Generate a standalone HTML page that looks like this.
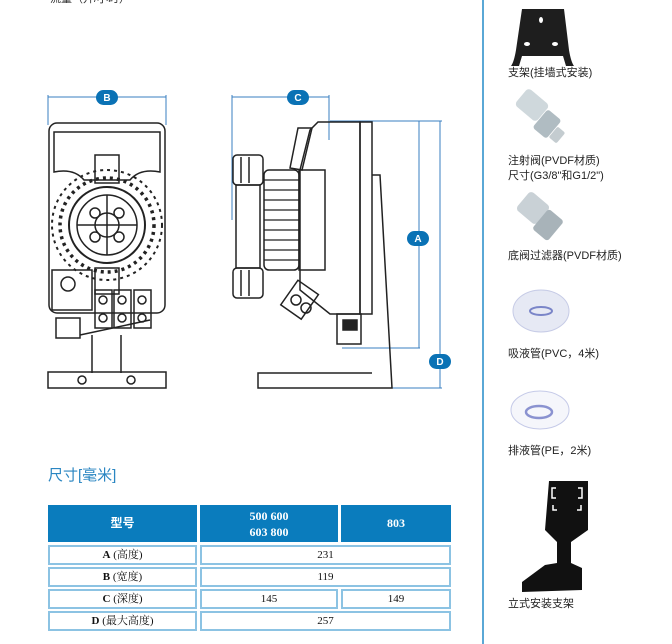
<!DOCTYPE html>
<html><head><meta charset="utf-8"><style>
html,body{margin:0;padding:0;background:#fff;}
body{width:672px;height:644px;position:relative;overflow:hidden;font-family:"Liberation Sans","Noto Sans CJK SC",sans-serif;}
.t{position:absolute;font-size:11px;color:#222;white-space:nowrap;line-height:14px;}
.c{position:absolute;box-sizing:border-box;border:2px solid #8cc3e3;text-align:center;font-family:"Liberation Serif","Noto Serif CJK SC",serif;font-size:11px;color:#111;}
.h{position:absolute;background:#0a7cbd;color:#fff;font-weight:bold;text-align:center;font-family:"Liberation Serif","Noto Sans CJK SC",serif;font-size:12px;}
</style></head><body>
<div class="t" style="left:50px;top:-8px;color:#333">流量（升/小时）</div>
<div style="position:absolute;left:482px;top:0;width:2px;height:644px;background:#5aa8d6"></div>

<svg width="672" height="644" style="position:absolute;left:0;top:0" xmlns="http://www.w3.org/2000/svg">
<g fill="none" stroke="#3a7fc0" stroke-width="1">
<line x1="48" y1="97" x2="166" y2="97"/><line x1="48" y1="95" x2="48" y2="125"/><line x1="166" y1="95" x2="166" y2="125"/>
<line x1="232" y1="97" x2="329" y2="97"/><line x1="232" y1="95" x2="232" y2="220"/><line x1="329" y1="95" x2="329" y2="140"/>
<line x1="330" y1="121" x2="442" y2="121"/>
<line x1="419" y1="121" x2="419" y2="348"/><line x1="342" y1="348" x2="420" y2="348"/>
<line x1="440" y1="121" x2="440" y2="388"/><line x1="375" y1="388" x2="442" y2="388"/>
</g>
<g fill="#0a72b5">
<rect x="96" y="90" width="22" height="15" rx="7.5"/><rect x="287" y="90" width="22" height="15" rx="7.5"/>
<rect x="407" y="231" width="22" height="15" rx="7.5"/><rect x="429" y="354" width="22" height="15" rx="7.5"/>
</g>
<g fill="#fff" font-family="Liberation Sans" font-weight="bold" font-size="10" text-anchor="middle">
<text x="107" y="101">B</text><text x="298" y="101">C</text><text x="418" y="242">A</text><text x="440" y="365">D</text>
</g>
<!-- front view -->
<g fill="none" stroke="#222" stroke-width="1.5">
<rect x="49" y="123" width="116" height="190" rx="8"/>
<path d="M54 132 L160 132 L160 172 Q140 168 130 180 L84 180 Q74 168 54 172 Z"/>
<circle cx="107" cy="225" r="38" stroke-width="2"/><circle cx="107" cy="225" r="30"/><circle cx="107" cy="225" r="12"/>
<line x1="77" y1="225" x2="137" y2="225"/><line x1="107" y1="195" x2="107" y2="255"/>
<circle cx="95" cy="213" r="5"/><circle cx="119" cy="213" r="5"/><circle cx="95" cy="237" r="5"/><circle cx="119" cy="237" r="5"/>
<rect x="95" y="155" width="24" height="28"/><rect x="95" y="268" width="24" height="26"/>
<rect x="95" y="290" width="17" height="38"/><rect x="114" y="290" width="17" height="38"/><rect x="134" y="290" width="17" height="38"/>
<circle cx="103" cy="300" r="4"/><circle cx="122" cy="300" r="4"/><circle cx="142" cy="300" r="4"/>
<circle cx="103" cy="318" r="4"/><circle cx="122" cy="318" r="4"/><circle cx="142" cy="318" r="4"/>
<rect x="56" y="318" width="24" height="20"/>
<path d="M92 335 L92 373 M121 335 L121 373 M80 335 L150 320"/>
<rect x="48" y="372" width="118" height="16"/>
<circle cx="82" cy="380" r="4"/><circle cx="131" cy="380" r="4"/>
<circle cx="68" cy="284" r="7"/>
<rect x="52" y="270" width="40" height="40"/>
</g>
<g stroke="#222" stroke-width="3.5" stroke-dasharray="3 4" fill="none"><circle cx="107" cy="225" r="47"/><circle cx="107" cy="225" r="55" stroke-width="2"/></g>
<!-- side view -->
<g fill="none" stroke="#222" stroke-width="1.5">
<rect x="360" y="122" width="12" height="192"/>
<path d="M318 122 L360 122 L360 314 L330 314 L300 290 L300 170 L310 130 Z"/>
<path d="M372 175 L380 175 L392 388 L258 388 L258 373 L372 373"/>
<path d="M298 128 L312 128 L302 170 L290 168 Z"/>
<rect x="264" y="170" width="35" height="100" rx="5"/>
<g stroke-width="1.2"><line x1="264" y1="180" x2="299" y2="180"/><line x1="264" y1="190" x2="299" y2="190"/><line x1="264" y1="200" x2="299" y2="200"/><line x1="264" y1="210" x2="299" y2="210"/><line x1="264" y1="220" x2="299" y2="220"/><line x1="264" y1="230" x2="299" y2="230"/><line x1="264" y1="240" x2="299" y2="240"/><line x1="264" y1="250" x2="299" y2="250"/><line x1="264" y1="260" x2="299" y2="260"/></g>
<rect x="299" y="170" width="26" height="100"/>
<rect x="233" y="155" width="30" height="30" rx="4"/><rect x="233" y="268" width="30" height="30" rx="4"/>
<line x1="241" y1="157" x2="241" y2="183"/><line x1="249" y1="157" x2="249" y2="183"/><line x1="241" y1="270" x2="241" y2="296"/><line x1="249" y1="270" x2="249" y2="296"/>
<rect x="236" y="185" width="24" height="83"/>
<rect x="337" y="314" width="24" height="30"/><rect x="343" y="320" width="14" height="10" fill="#222"/>
<rect x="287" y="285" width="25" height="30" transform="rotate(35 300 300)"/>
<circle cx="296" cy="300" r="5"/><circle cx="306" cy="308" r="5"/>
</g>
<!-- right panel images -->
<path d="M522 9 L564 9 L569 50 Q571 62 574 66 L566 66 L563 56 L522 56 L519 66 L511 66 Q514 62 516 50 Z" fill="#1e1e1e"/>
<ellipse cx="541" cy="20" rx="2" ry="3" fill="#fff"/><ellipse cx="527" cy="44" rx="3" ry="2" fill="#fff"/><ellipse cx="555" cy="44" rx="3" ry="2" fill="#fff"/><ellipse cx="541" cy="58" rx="2" ry="2" fill="#fff"/>
<rect x="518" y="94" width="28" height="22" rx="4" fill="#cfd8dc" transform="rotate(40 532 105)"/>
<rect x="538" y="112" width="18" height="24" rx="3" fill="#b0bcc2" transform="rotate(40 547 124)"/>
<rect x="552" y="128" width="10" height="14" rx="2" fill="#c4ccd0" transform="rotate(40 557 135)"/>
<rect x="520" y="196" width="26" height="24" rx="4" fill="#c9d1d6" transform="rotate(40 533 208)"/>
<rect x="538" y="212" width="20" height="26" rx="3" fill="#a8b3b9" transform="rotate(40 548 225)"/>
<ellipse cx="541" cy="311" rx="28" ry="21" fill="#e6e9f4" stroke="#c6cbe6"/>
<ellipse cx="541" cy="311" rx="11" ry="4" fill="none" stroke="#7a85c8" stroke-width="2"/>
<ellipse cx="540" cy="410" rx="29" ry="19" fill="#f5f6fb" stroke="#c5cae8"/>
<ellipse cx="539" cy="412" rx="13" ry="6" fill="none" stroke="#8a92d0" stroke-width="2.5"/>
<path d="M549 481 L588 481 L588 530 L571 542 L571 563 L582 568 L582 590 L522 592 L522 582 L545 565 L557 563 L557 542 L545 530 Z" fill="#111"/>
<g fill="none" stroke="#fff" stroke-width="1.5"><path d="M556 488 L552 488 L552 498 L556 498"/><path d="M578 488 L582 488 L582 498 L578 498"/><path d="M553 505 L553 510 L557 510"/><path d="M581 505 L581 510 L577 510"/></g>
</svg>

<div class="t" style="left:508px;top:66px">支架(挂墙式安装)</div>
<div class="t" style="left:508px;top:154px">注射阀(PVDF材质)</div>
<div class="t" style="left:508px;top:169px">尺寸(G3/8"和G1/2")</div>
<div class="t" style="left:508px;top:249px">底阀过滤器(PVDF材质)</div>
<div class="t" style="left:508px;top:347px">吸液管(PVC，4米)</div>
<div class="t" style="left:508px;top:444px">排液管(PE，2米)</div>
<div class="t" style="left:508px;top:597px">立式安装支架</div>

<div class="t" style="left:48px;top:467px;font-size:15px;line-height:18px;color:#2a86c2">尺寸[毫米]</div>

<div class="h" style="left:48px;top:505px;width:149px;height:37px;line-height:37px">型号</div>
<div class="h" style="left:200px;top:505px;width:138px;height:37px;line-height:16px;padding-top:3px;box-sizing:border-box">500 600<br>603 800</div>
<div class="h" style="left:341px;top:505px;width:110px;height:37px;line-height:37px">803</div>

<div class="c" style="left:48px;top:545px;width:149px;height:20px;line-height:16px"><b>A</b> (高度)</div>
<div class="c" style="left:200px;top:545px;width:251px;height:20px;line-height:16px">231</div>
<div class="c" style="left:48px;top:567px;width:149px;height:20px;line-height:16px"><b>B</b> (宽度)</div>
<div class="c" style="left:200px;top:567px;width:251px;height:20px;line-height:16px">119</div>
<div class="c" style="left:48px;top:589px;width:149px;height:20px;line-height:16px"><b>C</b> (深度)</div>
<div class="c" style="left:200px;top:589px;width:138px;height:20px;line-height:16px">145</div>
<div class="c" style="left:341px;top:589px;width:110px;height:20px;line-height:16px">149</div>
<div class="c" style="left:48px;top:611px;width:149px;height:20px;line-height:16px"><b>D</b> (最大高度)</div>
<div class="c" style="left:200px;top:611px;width:251px;height:20px;line-height:16px">257</div>
</body></html>
